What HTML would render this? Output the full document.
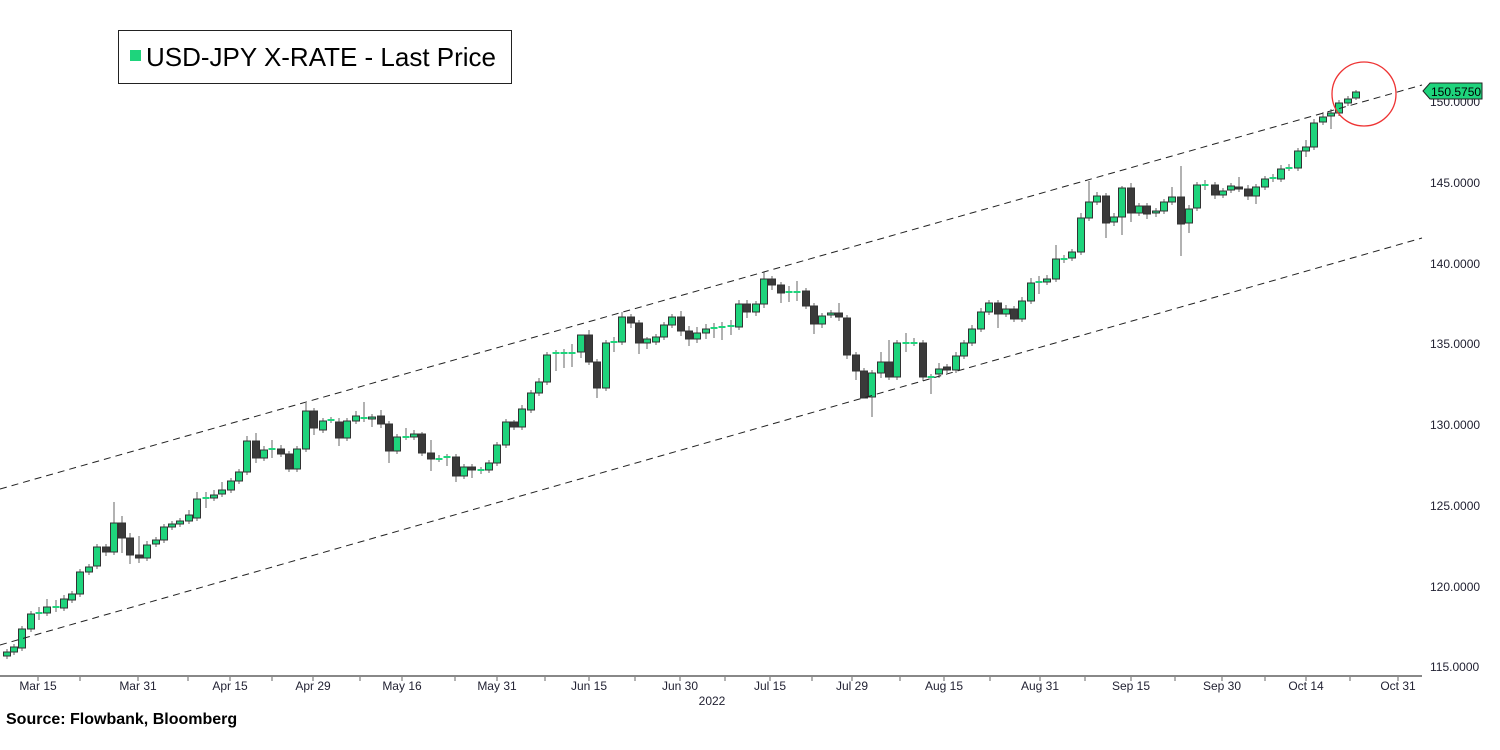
<!DOCTYPE html>
<html><head><meta charset="utf-8"><style>
html,body{margin:0;padding:0;background:#fff;}
svg text{font-family:"Liberation Sans",sans-serif;}
.g{fill:#1ed47c;stroke:#333;stroke-width:1;}
.d{fill:#3a3a3a;stroke:#333;stroke-width:1;}
.t{fill:#1ed47c;}
</style></head><body>
<svg width="1500" height="745" xmlns="http://www.w3.org/2000/svg">
<rect width="1500" height="745" fill="#fff"/>
<path stroke="#666" stroke-width="1" fill="none" d="
M7,649V659 M14,644V655 M22,626V651 M31,611V632 M39,607V620 M47,599V616 M56,600V612 M64,595V611 M72,591V603 M80,569V597 M89,564V575 M97,544V569 M106,544V556 M114,502V555 M122,516V553 M130,533V564 M139,536V563 M147,541V561 M156,537V547 M164,524V543 M172,521V530 M180,518V527 M189,510V524 M197,492V521 M206,492V508 M214,490V501 M222,482V497 M231,478V493 M239,469V484 M247,436V475 M256,433V463 M264,446V461 M272,440V458 M281,445V457 M289,451V472 M297,446V472
M306,403V452 M314,408V435 M323,418V433 M331,417V423 M339,418V446 M347,418V441 M356,411V424 M364,402V422 M372,414V427 M381,410V428 M389,421V463 M397,434V454 M406,428V440 M414,430V440 M422,432V456 M431,440V471 M439,455V462 M447,454V466 M456,454V482 M464,464V479 M472,464V478 M481,467V474 M489,460V473 M497,442V466 M506,419V448 M514,420V430 M522,405V430 M531,390V413 M539,378V396 M547,352V385 M556,350V371 M564,349V368 M572,344V367 M581,338V358 M589,330V365 M597,359V398 M606,340V391 M614,337V352 M622,312V345 M631,314V328 M639,320V354 M647,337V349 M656,334V345 M664,322V340 M672,314V328 M681,311V336 M689,326V346 M697,327V343 M706,324V339 M714,323V338 M722,322V340 M731,320V335 M739,300V330 M747,300V318 M756,301V316 M764,272V308 M772,276V290 M781,282V303 M789,286V302 M797,281V301 M806,288V309 M814,303V334 M822,313V328 M831,310V318 M839,303V321 M847,315V359 M856,352V380 M864,368V398 M872,370V417 M881,352V378 M889,340V380 M897,340V380
M906,333V352 M914,338V346 M923,340V381 M931,374V394 M939,363V378 M947,364V373 M956,352V373 M964,340V359 M972,325V346 M981,308V332 M989,300V315 M998,300V328 M1006,305V317 M1014,306V322 M1022,297V322 M1031,278V304 M1039,276V294 M1047,275V285 M1056,245V282 M1064,255V263 M1072,249V261 M1081,213V255 M1089,181V221 M1097,192V205 M1106,193V238 M1114,213V226 M1122,186V235 M1131,183V222 M1139,203V216 M1147,203V219 M1156,208V217 M1164,199V214 M1172,187V205 M1181,166V256 M1189,205V233 M1197,182V211 M1205,180V190 M1215,182V199 M1223,188V198 M1231,183V193 M1239,177V192 M1248,185V200 M1256,184V204 M1265,176V190 M1273,174V182 M1281,165V182 M1289,164V171 M1298,148V171 M1306,140V157 M1314,119V150 M1323,112V125 M1331,109V129 M1339,100V116 M1348,96V106 M1356,90V100"/>
<g class="t">
<rect x="35.5" y="612" width="7" height="2"/><rect x="52.5" y="606" width="7" height="2"/><rect x="202.5" y="497" width="7" height="2"/><rect x="268.5" y="448" width="7" height="2"/>
<rect x="327.5" y="419" width="7" height="2"/><rect x="360.5" y="417" width="7" height="2"/><rect x="402.5" y="436" width="7" height="2"/><rect x="435.5" y="458" width="7" height="2"/><rect x="443.5" y="456" width="7" height="2"/><rect x="477.5" y="469" width="7" height="2"/>
<rect x="552.5" y="352" width="7" height="2"/><rect x="560.5" y="352" width="7" height="2"/><rect x="568.5" y="352" width="7" height="2"/><rect x="610.5" y="341" width="7" height="2"/>
<rect x="710.5" y="327" width="7" height="2"/><rect x="718.5" y="326" width="7" height="2"/><rect x="727.5" y="325" width="7" height="2"/><rect x="785.5" y="291" width="7" height="2"/><rect x="793.5" y="291" width="7" height="2"/>
<rect x="902.5" y="342" width="7" height="2"/><rect x="910.5" y="342" width="7" height="2"/><rect x="927.5" y="376" width="7" height="2"/><rect x="1035.5" y="281" width="7" height="2"/><rect x="1060.5" y="258" width="7" height="2"/>
<rect x="1201.5" y="184" width="7" height="2"/><rect x="1269.5" y="177" width="7" height="2"/><rect x="1285.5" y="167" width="7" height="2"/>
</g>
<g class="g">
<rect x="3.5" y="652" width="7" height="4"/><rect x="10.5" y="647" width="7" height="5"/><rect x="18.5" y="629" width="7" height="19"/><rect x="27.5" y="614" width="7" height="15"/><rect x="43.5" y="607" width="7" height="6"/><rect x="60.5" y="599" width="7" height="9"/><rect x="68.5" y="594" width="7" height="6"/><rect x="76.5" y="572" width="7" height="22"/><rect x="85.5" y="567" width="7" height="5"/><rect x="93.5" y="547" width="7" height="19"/><rect x="110.5" y="523" width="7" height="29"/><rect x="143.5" y="545" width="7" height="13"/><rect x="152.5" y="540" width="7" height="4"/><rect x="160.5" y="527" width="7" height="13"/><rect x="168.5" y="524" width="7" height="3"/><rect x="176.5" y="521" width="7" height="3"/><rect x="185.5" y="515" width="7" height="6"/><rect x="193.5" y="499" width="7" height="19"/><rect x="210.5" y="495" width="7" height="3"/><rect x="218.5" y="490" width="7" height="4"/><rect x="227.5" y="481" width="7" height="9"/><rect x="235.5" y="472" width="7" height="9"/><rect x="243.5" y="441" width="7" height="31"/><rect x="260.5" y="450" width="7" height="8"/><rect x="293.5" y="449" width="7" height="20"/>
<rect x="302.5" y="411" width="7" height="38"/><rect x="319.5" y="421" width="7" height="9"/><rect x="343.5" y="421" width="7" height="17"/><rect x="352.5" y="416" width="7" height="5"/><rect x="368.5" y="417" width="7" height="2"/><rect x="393.5" y="437" width="7" height="14"/><rect x="410.5" y="434" width="7" height="3"/><rect x="460.5" y="467" width="7" height="9"/><rect x="485.5" y="463" width="7" height="7"/><rect x="493.5" y="445" width="7" height="18"/><rect x="502.5" y="422" width="7" height="23"/><rect x="518.5" y="409" width="7" height="18"/><rect x="527.5" y="393" width="7" height="17"/><rect x="535.5" y="382" width="7" height="11"/><rect x="543.5" y="355" width="7" height="27"/><rect x="577.5" y="335" width="7" height="17"/>
<rect x="602.5" y="343" width="7" height="45"/><rect x="618.5" y="317" width="7" height="25"/><rect x="643.5" y="339" width="7" height="4"/><rect x="652.5" y="337" width="7" height="5"/><rect x="660.5" y="325" width="7" height="12"/><rect x="668.5" y="317" width="7" height="8"/><rect x="693.5" y="333" width="7" height="6"/><rect x="702.5" y="329" width="7" height="4"/><rect x="735.5" y="304" width="7" height="23"/><rect x="752.5" y="304" width="7" height="8"/><rect x="760.5" y="279" width="7" height="25"/><rect x="818.5" y="316" width="7" height="8"/><rect x="827.5" y="313" width="7" height="2"/><rect x="868.5" y="373" width="7" height="24"/><rect x="877.5" y="362" width="7" height="11"/><rect x="893.5" y="343" width="7" height="34"/>
<rect x="935.5" y="369" width="7" height="5"/><rect x="952.5" y="356" width="7" height="14"/><rect x="960.5" y="343" width="7" height="13"/><rect x="968.5" y="329" width="7" height="14"/><rect x="977.5" y="312" width="7" height="17"/><rect x="985.5" y="303" width="7" height="9"/><rect x="1002.5" y="309" width="7" height="5"/><rect x="1018.5" y="301" width="7" height="18"/><rect x="1027.5" y="283" width="7" height="18"/><rect x="1043.5" y="279" width="7" height="3"/><rect x="1052.5" y="259" width="7" height="20"/><rect x="1068.5" y="252" width="7" height="6"/><rect x="1077.5" y="218" width="7" height="34"/><rect x="1085.5" y="202" width="7" height="16"/><rect x="1093.5" y="196" width="7" height="6"/><rect x="1110.5" y="217" width="7" height="5"/><rect x="1118.5" y="188" width="7" height="29"/><rect x="1135.5" y="206" width="7" height="7"/><rect x="1152.5" y="211" width="7" height="2"/><rect x="1160.5" y="202" width="7" height="9"/><rect x="1168.5" y="197" width="7" height="5"/><rect x="1185.5" y="209" width="7" height="14"/><rect x="1193.5" y="185" width="7" height="23"/>
<rect x="1219.5" y="191" width="7" height="4"/><rect x="1227.5" y="186" width="7" height="4"/><rect x="1252.5" y="187" width="7" height="9"/><rect x="1261.5" y="179" width="7" height="8"/><rect x="1277.5" y="169" width="7" height="10"/><rect x="1294.5" y="151" width="7" height="17"/><rect x="1302.5" y="147" width="7" height="4"/><rect x="1310.5" y="123" width="7" height="24"/><rect x="1319.5" y="117" width="7" height="5"/><rect x="1327.5" y="113" width="7" height="3"/><rect x="1335.5" y="103" width="7" height="10"/><rect x="1344.5" y="99" width="7" height="4"/><rect x="1352.5" y="92" width="7" height="6"/>
</g>
<g class="d">
<rect x="102.5" y="547" width="7" height="5"/><rect x="118.5" y="523" width="7" height="15"/><rect x="126.5" y="538" width="7" height="17"/><rect x="135.5" y="555" width="7" height="3"/><rect x="277.5" y="449" width="7" height="5"/><rect x="285.5" y="454" width="7" height="15"/><rect x="252.5" y="441" width="7" height="17"/>
<rect x="310.5" y="411" width="7" height="17"/><rect x="335.5" y="422" width="7" height="16"/><rect x="377.5" y="416" width="7" height="8"/><rect x="385.5" y="424" width="7" height="27"/><rect x="418.5" y="434" width="7" height="19"/><rect x="427.5" y="453" width="7" height="6"/><rect x="452.5" y="457" width="7" height="19"/><rect x="468.5" y="467" width="7" height="3"/><rect x="510.5" y="422" width="7" height="5"/><rect x="585.5" y="335" width="7" height="27"/><rect x="593.5" y="362" width="7" height="26"/>
<rect x="627.5" y="317" width="7" height="6"/><rect x="635.5" y="323" width="7" height="20"/><rect x="677.5" y="317" width="7" height="14"/><rect x="685.5" y="331" width="7" height="8"/><rect x="743.5" y="304" width="7" height="8"/><rect x="768.5" y="279" width="7" height="6"/><rect x="777.5" y="285" width="7" height="8"/><rect x="802.5" y="291" width="7" height="15"/><rect x="810.5" y="306" width="7" height="18"/><rect x="835.5" y="313" width="7" height="4"/><rect x="843.5" y="318" width="7" height="37"/><rect x="852.5" y="355" width="7" height="16"/><rect x="860.5" y="371" width="7" height="27"/><rect x="885.5" y="362" width="7" height="15"/>
<rect x="919.5" y="343" width="7" height="34"/><rect x="943.5" y="367" width="7" height="3"/><rect x="994.5" y="303" width="7" height="11"/><rect x="1010.5" y="309" width="7" height="10"/><rect x="1102.5" y="196" width="7" height="27"/><rect x="1127.5" y="188" width="7" height="25"/><rect x="1143.5" y="206" width="7" height="8"/><rect x="1177.5" y="197" width="7" height="27"/><rect x="1211.5" y="185" width="7" height="10"/><rect x="1235.5" y="187" width="7" height="2"/><rect x="1244.5" y="189" width="7" height="7"/>
</g>
<line x1="0" y1="489" x2="1422" y2="85" stroke="#222" stroke-width="1" stroke-dasharray="7,5"/>
<line x1="0" y1="645" x2="1422" y2="238" stroke="#222" stroke-width="1" stroke-dasharray="7,5"/>
<line x1="0" y1="676" x2="1422" y2="676" stroke="#888" stroke-width="2"/>
<path stroke="#666" d="M38,677V681M80,677V681M138,677V681M188,677V681M230,677V681M272,677V681M313,677V681M360,677V681M402,677V681M455,677V681M497,677V681M545,677V681M589,677V681M635,677V681M680,677V681M725,677V681M770,677V681M812,677V681M852,677V681M900,677V681M944,677V681M990,677V681M1040,677V681M1085,677V681M1131,677V681M1175,677V681M1222,677V681M1265,677V681M1306,677V681M1350,677V681M1398,677V681"/>
<g font-size="12" fill="#223">
<text x="1430" y="106">150.0000</text><text x="1430" y="187">145.0000</text><text x="1430" y="268">140.0000</text>
<text x="1430" y="348">135.0000</text><text x="1430" y="429">130.0000</text><text x="1430" y="510">125.0000</text>
<text x="1430" y="591">120.0000</text><text x="1430" y="671">115.0000</text>
</g>
<g font-size="12" fill="#223" text-anchor="middle">
<text x="38" y="690">Mar 15</text><text x="138" y="690">Mar 31</text><text x="230" y="690">Apr 15</text>
<text x="313" y="690">Apr 29</text><text x="402" y="690">May 16</text><text x="497" y="690">May 31</text>
<text x="589" y="690">Jun 15</text><text x="680" y="690">Jun 30</text><text x="770" y="690">Jul 15</text>
<text x="852" y="690">Jul 29</text><text x="944" y="690">Aug 15</text><text x="1040" y="690">Aug 31</text>
<text x="1131" y="690">Sep 15</text><text x="1222" y="690">Sep 30</text><text x="1306" y="690">Oct 14</text>
<text x="1398" y="690">Oct 31</text><text x="712" y="705">2022</text>
</g>
<circle cx="1364" cy="94" r="32" fill="none" stroke="#e33" stroke-width="1.3"/>
<path d="M1423,91 L1430,83 L1482,83 L1482,99 L1430,99 Z" fill="#1ed47c" stroke="#222" stroke-width="1"/>
<text x="1431" y="96" font-size="12" fill="#000">150.5750</text>
<rect x="118.5" y="30.5" width="393" height="53" fill="#fff" stroke="#222"/>
<rect x="130" y="50" width="11" height="11" fill="#1ed47c"/>
<text x="146" y="66" font-size="26" fill="#000" textLength="350">USD-JPY X-RATE - Last Price</text>
<text x="6" y="724" font-size="16" font-weight="bold" fill="#000">Source: Flowbank, Bloomberg</text>
</svg>
</body></html>
